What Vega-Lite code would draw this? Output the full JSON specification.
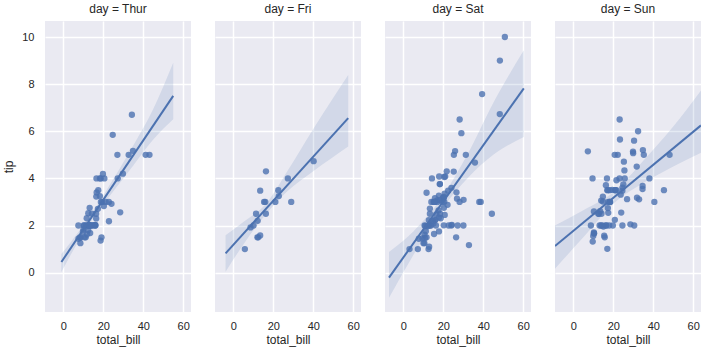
{
"$schema": "https://vega.github.io/schema/vega-lite/v6.json",
"background": "white",
"padding": {"left": 2, "top": 3, "right": 5, "bottom": 5},
"datasets": {
"tips": [
{"kind":"pt","day":"Thur","total_bill":27.2,"tip":4.0},{"kind":"pt","day":"Thur","total_bill":22.76,"tip":3.0},{"kind":"pt","day":"Thur","total_bill":17.29,"tip":2.71},{"kind":"pt","day":"Thur","total_bill":19.44,"tip":3.0},{"kind":"pt","day":"Thur","total_bill":16.66,"tip":3.4},{"kind":"pt","day":"Thur","total_bill":10.07,"tip":1.83},{"kind":"pt","day":"Thur","total_bill":32.68,"tip":5.0},{"kind":"pt","day":"Thur","total_bill":15.98,"tip":2.03},{"kind":"pt","day":"Thur","total_bill":34.83,"tip":5.17},{"kind":"pt","day":"Thur","total_bill":13.03,"tip":2.0},{"kind":"pt","day":"Thur","total_bill":18.28,"tip":4.0},{"kind":"pt","day":"Thur","total_bill":24.71,"tip":5.85},{"kind":"pt","day":"Thur","total_bill":21.16,"tip":3.0},
{"kind":"pt","day":"Thur","total_bill":10.65,"tip":1.5},{"kind":"pt","day":"Thur","total_bill":12.43,"tip":1.8},{"kind":"pt","day":"Thur","total_bill":24.08,"tip":2.92},{"kind":"pt","day":"Thur","total_bill":11.69,"tip":2.31},{"kind":"pt","day":"Thur","total_bill":13.42,"tip":1.68},{"kind":"pt","day":"Thur","total_bill":14.26,"tip":2.5},{"kind":"pt","day":"Thur","total_bill":15.95,"tip":2.0},{"kind":"pt","day":"Thur","total_bill":12.48,"tip":2.52},{"kind":"pt","day":"Thur","total_bill":29.8,"tip":4.2},{"kind":"pt","day":"Thur","total_bill":8.52,"tip":1.48},{"kind":"pt","day":"Thur","total_bill":14.52,"tip":2.0},{"kind":"pt","day":"Thur","total_bill":11.38,"tip":2.0},{"kind":"pt","day":"Thur","total_bill":22.82,"tip":2.18},{"kind":"pt","day":"Thur","total_bill":19.08,"tip":1.5},{"kind":"pt","day":"Thur","total_bill":20.27,"tip":2.83},{"kind":"pt","day":"Thur","total_bill":11.17,"tip":1.5},{"kind":"pt","day":"Thur","total_bill":12.26,"tip":2.0},{"kind":"pt","day":"Thur","total_bill":18.26,"tip":3.25},{"kind":"pt","day":"Thur","total_bill":8.51,"tip":1.25},{"kind":"pt","day":"Thur","total_bill":10.33,"tip":2.0},{"kind":"pt","day":"Thur","total_bill":14.15,"tip":2.0},{"kind":"pt","day":"Thur","total_bill":16.0,"tip":2.0},{"kind":"pt","day":"Thur","total_bill":13.16,"tip":2.75},{"kind":"pt","day":"Thur","total_bill":17.47,"tip":3.5},{"kind":"pt","day":"Thur","total_bill":34.3,"tip":6.7},{"kind":"pt","day":"Thur","total_bill":41.19,"tip":5.0},{"kind":"pt","day":"Thur","total_bill":27.05,"tip":5.0},{"kind":"pt","day":"Thur","total_bill":16.43,"tip":2.3},{"kind":"pt","day":"Thur","total_bill":8.35,"tip":1.5},{"kind":"pt","day":"Thur","total_bill":18.64,"tip":1.36},{"kind":"pt","day":"Thur","total_bill":11.87,"tip":1.63},{"kind":"pt","day":"Thur","total_bill":9.78,"tip":1.73},{"kind":"pt","day":"Thur","total_bill":7.51,"tip":2.0},
{"kind":"pt","day":"Thur","total_bill":19.81,"tip":4.19},{"kind":"pt","day":"Thur","total_bill":28.44,"tip":2.56},{"kind":"pt","day":"Thur","total_bill":15.48,"tip":2.02},{"kind":"pt","day":"Thur","total_bill":16.58,"tip":4.0},{"kind":"pt","day":"Thur","total_bill":7.56,"tip":1.44},{"kind":"pt","day":"Thur","total_bill":10.34,"tip":2.0},{"kind":"pt","day":"Thur","total_bill":43.11,"tip":5.0},{"kind":"pt","day":"Thur","total_bill":13.0,"tip":2.0},{"kind":"pt","day":"Thur","total_bill":13.51,"tip":2.0},{"kind":"pt","day":"Thur","total_bill":18.71,"tip":4.0},{"kind":"pt","day":"Thur","total_bill":12.74,"tip":2.01},{"kind":"pt","day":"Thur","total_bill":13.0,"tip":2.0},{"kind":"pt","day":"Thur","total_bill":16.4,"tip":2.5},{"kind":"pt","day":"Thur","total_bill":20.53,"tip":4.0},{"kind":"pt","day":"Thur","total_bill":16.47,"tip":3.23},{"kind":"pt","day":"Thur","total_bill":18.78,"tip":3.0},
{"kind":"pt","day":"Fri","total_bill":28.97,"tip":3.0},{"kind":"pt","day":"Fri","total_bill":22.49,"tip":3.5},{"kind":"pt","day":"Fri","total_bill":5.75,"tip":1.0},{"kind":"pt","day":"Fri","total_bill":16.32,"tip":4.3},{"kind":"pt","day":"Fri","total_bill":22.75,"tip":3.25},{"kind":"pt","day":"Fri","total_bill":40.17,"tip":4.73},{"kind":"pt","day":"Fri","total_bill":27.28,"tip":4.0},{"kind":"pt","day":"Fri","total_bill":12.03,"tip":1.5},{"kind":"pt","day":"Fri","total_bill":21.01,"tip":3.0},{"kind":"pt","day":"Fri","total_bill":12.46,"tip":1.5},{"kind":"pt","day":"Fri","total_bill":11.35,"tip":2.5},{"kind":"pt","day":"Fri","total_bill":15.38,"tip":3.0},{"kind":"pt","day":"Fri","total_bill":12.16,"tip":2.2},{"kind":"pt","day":"Fri","total_bill":13.42,"tip":3.48},{"kind":"pt","day":"Fri","total_bill":8.58,"tip":1.92},{"kind":"pt","day":"Fri","total_bill":15.98,"tip":3.0},{"kind":"pt","day":"Fri","total_bill":13.42,"tip":1.58},{"kind":"pt","day":"Fri","total_bill":16.27,"tip":2.5},{"kind":"pt","day":"Fri","total_bill":10.09,"tip":2.0},
{"kind":"pt","day":"Sat","total_bill":20.65,"tip":3.35},{"kind":"pt","day":"Sat","total_bill":17.92,"tip":4.08},{"kind":"pt","day":"Sat","total_bill":20.29,"tip":2.75},{"kind":"pt","day":"Sat","total_bill":15.77,"tip":2.23},{"kind":"pt","day":"Sat","total_bill":39.42,"tip":7.58},{"kind":"pt","day":"Sat","total_bill":19.82,"tip":3.18},{"kind":"pt","day":"Sat","total_bill":17.81,"tip":2.34},{"kind":"pt","day":"Sat","total_bill":13.37,"tip":2.0},{"kind":"pt","day":"Sat","total_bill":12.69,"tip":2.0},{"kind":"pt","day":"Sat","total_bill":21.7,"tip":4.3},{"kind":"pt","day":"Sat","total_bill":19.65,"tip":3.0},{"kind":"pt","day":"Sat","total_bill":9.55,"tip":1.45},{"kind":"pt","day":"Sat","total_bill":18.35,"tip":2.5},{"kind":"pt","day":"Sat","total_bill":15.06,"tip":3.0},{"kind":"pt","day":"Sat","total_bill":20.69,"tip":2.45},{"kind":"pt","day":"Sat","total_bill":17.78,"tip":3.27},{"kind":"pt","day":"Sat","total_bill":24.06,"tip":3.6},{"kind":"pt","day":"Sat","total_bill":16.31,"tip":2.0},{"kind":"pt","day":"Sat","total_bill":16.93,"tip":3.07},{"kind":"pt","day":"Sat","total_bill":18.69,"tip":2.31},{"kind":"pt","day":"Sat","total_bill":31.27,"tip":5.0},{"kind":"pt","day":"Sat","total_bill":16.04,"tip":2.24},
{"kind":"pt","day":"Sat","total_bill":38.01,"tip":3.0},{"kind":"pt","day":"Sat","total_bill":26.41,"tip":1.5},{"kind":"pt","day":"Sat","total_bill":11.24,"tip":1.76},{"kind":"pt","day":"Sat","total_bill":48.27,"tip":6.73},{"kind":"pt","day":"Sat","total_bill":20.29,"tip":3.21},{"kind":"pt","day":"Sat","total_bill":13.81,"tip":2.0},{"kind":"pt","day":"Sat","total_bill":11.02,"tip":1.98},{"kind":"pt","day":"Sat","total_bill":18.29,"tip":3.76},{"kind":"pt","day":"Sat","total_bill":17.59,"tip":2.64},{"kind":"pt","day":"Sat","total_bill":20.08,"tip":3.15},{"kind":"pt","day":"Sat","total_bill":16.45,"tip":2.47},{"kind":"pt","day":"Sat","total_bill":3.07,"tip":1.0},{"kind":"pt","day":"Sat","total_bill":20.23,"tip":2.01},{"kind":"pt","day":"Sat","total_bill":15.01,"tip":2.09},{"kind":"pt","day":"Sat","total_bill":12.02,"tip":1.97},{"kind":"pt","day":"Sat","total_bill":17.07,"tip":3.0},{"kind":"pt","day":"Sat","total_bill":26.86,"tip":3.14},{"kind":"pt","day":"Sat","total_bill":25.28,"tip":5.0},{"kind":"pt","day":"Sat","total_bill":14.73,"tip":2.2},{"kind":"pt","day":"Sat","total_bill":10.51,"tip":1.25},{"kind":"pt","day":"Sat","total_bill":17.92,"tip":3.08},
{"kind":"pt","day":"Sat","total_bill":44.3,"tip":2.5},{"kind":"pt","day":"Sat","total_bill":22.42,"tip":3.48},{"kind":"pt","day":"Sat","total_bill":20.92,"tip":4.08},{"kind":"pt","day":"Sat","total_bill":15.36,"tip":1.64},{"kind":"pt","day":"Sat","total_bill":20.49,"tip":4.06},{"kind":"pt","day":"Sat","total_bill":25.21,"tip":4.29},{"kind":"pt","day":"Sat","total_bill":18.24,"tip":3.76},{"kind":"pt","day":"Sat","total_bill":14.31,"tip":4.0},{"kind":"pt","day":"Sat","total_bill":14.0,"tip":3.0},{"kind":"pt","day":"Sat","total_bill":7.25,"tip":1.0},
{"kind":"pt","day":"Sat","total_bill":10.59,"tip":1.61},{"kind":"pt","day":"Sat","total_bill":10.63,"tip":2.0},{"kind":"pt","day":"Sat","total_bill":50.81,"tip":10.0},{"kind":"pt","day":"Sat","total_bill":15.81,"tip":3.16},
{"kind":"pt","day":"Sat","total_bill":26.59,"tip":3.41},{"kind":"pt","day":"Sat","total_bill":38.73,"tip":3.0},{"kind":"pt","day":"Sat","total_bill":24.27,"tip":2.03},{"kind":"pt","day":"Sat","total_bill":12.76,"tip":2.23},{"kind":"pt","day":"Sat","total_bill":30.06,"tip":2.0},{"kind":"pt","day":"Sat","total_bill":25.89,"tip":5.16},{"kind":"pt","day":"Sat","total_bill":48.33,"tip":9.0},{"kind":"pt","day":"Sat","total_bill":13.27,"tip":2.5},{"kind":"pt","day":"Sat","total_bill":28.17,"tip":6.5},{"kind":"pt","day":"Sat","total_bill":12.9,"tip":1.1},{"kind":"pt","day":"Sat","total_bill":28.15,"tip":3.0},{"kind":"pt","day":"Sat","total_bill":11.59,"tip":1.5},{"kind":"pt","day":"Sat","total_bill":7.74,"tip":1.44},{"kind":"pt","day":"Sat","total_bill":30.14,"tip":3.09},
{"kind":"pt","day":"Sat","total_bill":20.45,"tip":3.0},{"kind":"pt","day":"Sat","total_bill":13.28,"tip":2.72},{"kind":"pt","day":"Sat","total_bill":22.12,"tip":2.88},{"kind":"pt","day":"Sat","total_bill":24.01,"tip":2.0},{"kind":"pt","day":"Sat","total_bill":15.69,"tip":3.0},{"kind":"pt","day":"Sat","total_bill":11.61,"tip":3.39},{"kind":"pt","day":"Sat","total_bill":10.77,"tip":1.47},{"kind":"pt","day":"Sat","total_bill":15.53,"tip":3.0},{"kind":"pt","day":"Sat","total_bill":10.07,"tip":1.25},{"kind":"pt","day":"Sat","total_bill":12.6,"tip":1.0},{"kind":"pt","day":"Sat","total_bill":32.83,"tip":1.17},{"kind":"pt","day":"Sat","total_bill":35.83,"tip":4.67},{"kind":"pt","day":"Sat","total_bill":29.03,"tip":5.92},{"kind":"pt","day":"Sat","total_bill":27.18,"tip":2.0},{"kind":"pt","day":"Sat","total_bill":22.67,"tip":2.0},{"kind":"pt","day":"Sat","total_bill":17.82,"tip":1.75},
{"kind":"pt","day":"Sun","total_bill":16.99,"tip":1.01},{"kind":"pt","day":"Sun","total_bill":10.34,"tip":1.66},{"kind":"pt","day":"Sun","total_bill":21.01,"tip":3.5},{"kind":"pt","day":"Sun","total_bill":23.68,"tip":3.31},{"kind":"pt","day":"Sun","total_bill":24.59,"tip":3.61},{"kind":"pt","day":"Sun","total_bill":25.29,"tip":4.71},{"kind":"pt","day":"Sun","total_bill":8.77,"tip":2.0},{"kind":"pt","day":"Sun","total_bill":26.88,"tip":3.12},{"kind":"pt","day":"Sun","total_bill":15.04,"tip":1.96},{"kind":"pt","day":"Sun","total_bill":14.78,"tip":3.23},{"kind":"pt","day":"Sun","total_bill":10.27,"tip":1.71},{"kind":"pt","day":"Sun","total_bill":35.26,"tip":5.0},{"kind":"pt","day":"Sun","total_bill":15.42,"tip":1.57},{"kind":"pt","day":"Sun","total_bill":18.43,"tip":3.0},{"kind":"pt","day":"Sun","total_bill":14.83,"tip":3.02},{"kind":"pt","day":"Sun","total_bill":21.58,"tip":3.92},{"kind":"pt","day":"Sun","total_bill":10.33,"tip":1.67},{"kind":"pt","day":"Sun","total_bill":16.29,"tip":3.71},{"kind":"pt","day":"Sun","total_bill":16.97,"tip":3.5},
{"kind":"pt","day":"Sun","total_bill":17.46,"tip":2.54},{"kind":"pt","day":"Sun","total_bill":13.94,"tip":3.06},{"kind":"pt","day":"Sun","total_bill":9.68,"tip":1.32},{"kind":"pt","day":"Sun","total_bill":30.4,"tip":5.6},{"kind":"pt","day":"Sun","total_bill":18.29,"tip":3.0},{"kind":"pt","day":"Sun","total_bill":22.23,"tip":5.0},{"kind":"pt","day":"Sun","total_bill":32.4,"tip":6.0},{"kind":"pt","day":"Sun","total_bill":28.55,"tip":2.05},{"kind":"pt","day":"Sun","total_bill":18.04,"tip":3.0},{"kind":"pt","day":"Sun","total_bill":12.54,"tip":2.5},{"kind":"pt","day":"Sun","total_bill":10.29,"tip":2.6},{"kind":"pt","day":"Sun","total_bill":34.81,"tip":5.2},{"kind":"pt","day":"Sun","total_bill":9.94,"tip":1.56},{"kind":"pt","day":"Sun","total_bill":25.56,"tip":4.34},{"kind":"pt","day":"Sun","total_bill":19.49,"tip":3.51},
{"kind":"pt","day":"Sun","total_bill":38.07,"tip":4.0},{"kind":"pt","day":"Sun","total_bill":23.95,"tip":2.55},{"kind":"pt","day":"Sun","total_bill":25.71,"tip":4.0},{"kind":"pt","day":"Sun","total_bill":17.31,"tip":3.5},{"kind":"pt","day":"Sun","total_bill":29.93,"tip":5.07},
{"kind":"pt","day":"Sun","total_bill":14.07,"tip":2.5},{"kind":"pt","day":"Sun","total_bill":13.13,"tip":2.0},{"kind":"pt","day":"Sun","total_bill":17.26,"tip":2.74},{"kind":"pt","day":"Sun","total_bill":24.55,"tip":2.0},{"kind":"pt","day":"Sun","total_bill":19.77,"tip":2.0},{"kind":"pt","day":"Sun","total_bill":29.85,"tip":5.14},{"kind":"pt","day":"Sun","total_bill":48.17,"tip":5.0},{"kind":"pt","day":"Sun","total_bill":25.0,"tip":3.75},{"kind":"pt","day":"Sun","total_bill":13.39,"tip":2.61},{"kind":"pt","day":"Sun","total_bill":16.49,"tip":2.0},{"kind":"pt","day":"Sun","total_bill":21.5,"tip":3.5},{"kind":"pt","day":"Sun","total_bill":12.66,"tip":2.5},{"kind":"pt","day":"Sun","total_bill":16.21,"tip":2.0},{"kind":"pt","day":"Sun","total_bill":13.81,"tip":2.0},{"kind":"pt","day":"Sun","total_bill":17.51,"tip":3.0},{"kind":"pt","day":"Sun","total_bill":24.52,"tip":3.48},{"kind":"pt","day":"Sun","total_bill":20.76,"tip":2.24},{"kind":"pt","day":"Sun","total_bill":31.71,"tip":4.5},
{"kind":"pt","day":"Sun","total_bill":7.25,"tip":5.15},{"kind":"pt","day":"Sun","total_bill":31.85,"tip":3.18},{"kind":"pt","day":"Sun","total_bill":16.82,"tip":4.0},{"kind":"pt","day":"Sun","total_bill":32.9,"tip":3.11},{"kind":"pt","day":"Sun","total_bill":17.89,"tip":2.0},{"kind":"pt","day":"Sun","total_bill":14.48,"tip":2.0},{"kind":"pt","day":"Sun","total_bill":9.6,"tip":4.0},{"kind":"pt","day":"Sun","total_bill":34.63,"tip":3.55},{"kind":"pt","day":"Sun","total_bill":34.65,"tip":3.68},{"kind":"pt","day":"Sun","total_bill":23.33,"tip":5.65},{"kind":"pt","day":"Sun","total_bill":45.35,"tip":3.5},{"kind":"pt","day":"Sun","total_bill":23.17,"tip":6.5},{"kind":"pt","day":"Sun","total_bill":40.55,"tip":3.0},{"kind":"pt","day":"Sun","total_bill":20.69,"tip":5.0},{"kind":"pt","day":"Sun","total_bill":20.9,"tip":3.5},{"kind":"pt","day":"Sun","total_bill":30.46,"tip":2.0},{"kind":"pt","day":"Sun","total_bill":18.15,"tip":3.5},{"kind":"pt","day":"Sun","total_bill":23.1,"tip":4.0},{"kind":"pt","day":"Sun","total_bill":15.69,"tip":1.5},
{"kind":"line","day":"Thur","total_bill":-1,"tip":0.45},{"kind":"line","day":"Thur","total_bill":55,"tip":7.5},
{"kind":"line","day":"Fri","total_bill":-3.9,"tip":0.82},{"kind":"line","day":"Fri","total_bill":57.5,"tip":6.56},
{"kind":"line","day":"Sat","total_bill":-7.2,"tip":-0.21},{"kind":"line","day":"Sat","total_bill":60.3,"tip":7.82},
{"kind":"line","day":"Sun","total_bill":-9.2,"tip":1.13},{"kind":"line","day":"Sun","total_bill":63.9,"tip":6.25},
{"kind":"band","day":"Thur","total_bill":-1,"lo":0.03,"hi":0.79},{"kind":"band","day":"Thur","total_bill":8,"lo":1.4,"hi":1.78},{"kind":"band","day":"Thur","total_bill":17,"lo":2.55,"hi":2.87},{"kind":"band","day":"Thur","total_bill":25,"lo":3.45,"hi":3.97},{"kind":"band","day":"Thur","total_bill":35,"lo":4.55,"hi":5.4},{"kind":"band","day":"Thur","total_bill":45,"lo":5.65,"hi":6.95},{"kind":"band","day":"Thur","total_bill":55,"lo":6.51,"hi":8.91},
{"kind":"band","day":"Fri","total_bill":-3.9,"lo":0.04,"hi":1.59},{"kind":"band","day":"Fri","total_bill":5,"lo":1.2,"hi":2.15},{"kind":"band","day":"Fri","total_bill":17,"lo":2.55,"hi":2.99},{"kind":"band","day":"Fri","total_bill":27,"lo":3.45,"hi":4.3},{"kind":"band","day":"Fri","total_bill":40,"lo":4.3,"hi":6.1},{"kind":"band","day":"Fri","total_bill":57.5,"lo":5.35,"hi":8.39},
{"kind":"band","day":"Sat","total_bill":-7.2,"lo":-1.07,"hi":0.88},{"kind":"band","day":"Sat","total_bill":5,"lo":0.75,"hi":1.75},{"kind":"band","day":"Sat","total_bill":20,"lo":2.78,"hi":3.28},{"kind":"band","day":"Sat","total_bill":32,"lo":4.0,"hi":5.0},{"kind":"band","day":"Sat","total_bill":45,"lo":5.0,"hi":7.2},{"kind":"band","day":"Sat","total_bill":60.3,"lo":5.76,"hi":9.44},
{"kind":"band","day":"Sun","total_bill":-9.2,"lo":0.17,"hi":2.0},{"kind":"band","day":"Sun","total_bill":5,"lo":1.5,"hi":2.65},{"kind":"band","day":"Sun","total_bill":21,"lo":3.0,"hi":3.48},{"kind":"band","day":"Sun","total_bill":35,"lo":3.8,"hi":4.75},{"kind":"band","day":"Sun","total_bill":50,"lo":4.5,"hi":6.2},{"kind":"band","day":"Sun","total_bill":63.9,"lo":5.09,"hi":7.73}
]
},
"data": {"name": "tips"},
"facet": {
"column": {"field": "day", "type": "nominal", "sort": ["Thur", "Fri", "Sat", "Sun"],
"header": {"title": null, "labelExpr": "'day = ' + datum.value", "labelFontSize": 12, "labelColor": "#262626", "labelFont": "Liberation Sans", "labelPadding": 5}}
},
"spacing": 24,
"spec": {
"width": 146,
"height": 291,
"encoding": {
"x": {"field": "total_bill", "type": "quantitative", "title": "total_bill",
"scale": {"domain": [-9.2, 63.9], "nice": false, "zero": false},
"axis": {"values": [0, 20, 40, 60]}}
},
"layer": [
{"transform": [{"filter": "datum.kind === 'pt'"}],
"mark": {"type": "circle", "color": "#4C72B0", "opacity": 0.8, "size": 40},
"encoding": {"y": {"field": "tip", "type": "quantitative", "title": "tip",
"scale": {"domain": [-1.67, 10.68], "nice": false, "zero": false},
"axis": {"values": [0, 2, 4, 6, 8, 10]}}}},
{"transform": [{"filter": "datum.kind === 'band'"}],
"mark": {"type": "area", "color": "#4C72B0", "opacity": 0.15, "interpolate": "monotone", "clip": true},
"encoding": {"y": {"field": "lo", "type": "quantitative", "title": "tip",
"scale": {"domain": [-1.67, 10.68], "nice": false, "zero": false}},
"y2": {"field": "hi"}}},
{"transform": [{"filter": "datum.kind === 'line'"}],
"mark": {"type": "line", "color": "#4C72B0", "strokeWidth": 2, "clip": true},
"encoding": {"y": {"field": "tip", "type": "quantitative", "title": "tip",
"scale": {"domain": [-1.67, 10.68], "nice": false, "zero": false}}}}
]
},
"config": {
"view": {"fill": "#EAEAF2", "stroke": null},
"font": "Liberation Sans",
"axis": {"domain": false, "ticks": false, "gridColor": "#FFFFFF", "gridWidth": 1.5, "gridOpacity": 1,
"labelFont": "Liberation Sans", "labelFontSize": 11, "labelColor": "#262626",
"titleFont": "Liberation Sans", "titleFontSize": 12, "titleColor": "#262626", "titleFontWeight": "normal"},
"axisX": {"labelPadding": 8, "titlePadding": 3},
"axisY": {"labelPadding": 11, "titlePadding": 6}
}
}
